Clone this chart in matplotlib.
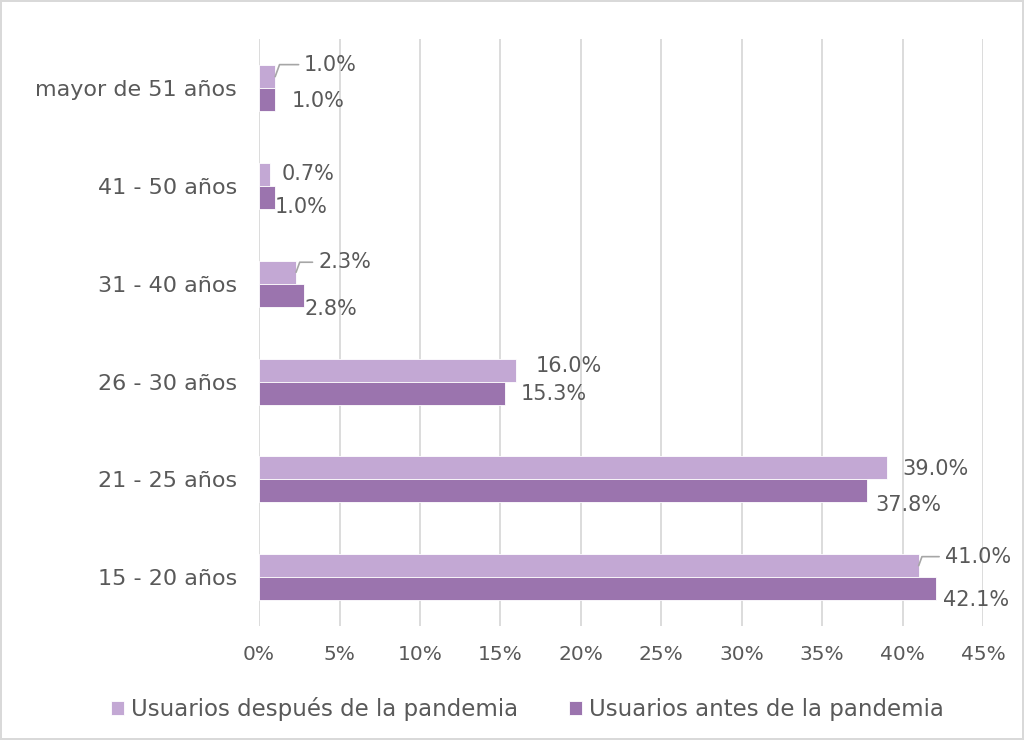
import matplotlib
matplotlib.use("Agg")
import matplotlib.pyplot as plt
import numpy as np

# ---------------- DATA ----------------
categories = ["15 - 20 años", "21 - 25 años", "26 - 30 años",
              "31 - 40 años", "41 - 50 años", "mayor de 51 años"]
despues = [41.0, 39.0, 16.0, 2.3, 0.7, 1.0]
antes = [42.1, 37.8, 15.3, 2.8, 1.0, 1.0]
xticks = [0, 5, 10, 15, 20, 25, 30, 35, 40, 45]

# ---------------- STYLE ----------------
LIGHT = "#c3a8d4"
DARK = "#9b74ae"
TXT = "#595959"
GRID = "#d9d9d9"
plt.rcParams["font.family"] = ["DejaVu Sans"]

# label offsets (pixels) for each bar label, and whether a leader line is drawn
light_off = [(26, 9, True), (16, -1, False), (19, 4, False),
             (22, 10, True), (11, 0, False), (29, 12, True)]
dark_off = [(7, -11), (8, -14), (15, -1), (0, -14), (0, -10), (17, -1)]

fig = plt.figure(figsize=(10.24, 7.4), dpi=100)
fig.patch.set_edgecolor("#d9d9d9")
fig.patch.set_linewidth(1.5)
ax = fig.add_axes([0.253, 0.154, 0.707, 0.793])

y = np.arange(len(categories))
h = 0.235
ax.barh(y + h / 2, despues, height=h, color=LIGHT, edgecolor="white", linewidth=0.6,
        label="Usuarios después de la pandemia", zorder=3)
ax.barh(y - h / 2, antes, height=h, color=DARK, edgecolor="white", linewidth=0.6,
        label="Usuarios antes de la pandemia", zorder=3)

for i in range(len(categories)):
    dx, dy, leader = light_off[i]
    kw = {}
    if leader:
        kw["arrowprops"] = dict(arrowstyle="-", color="#a6a6a6", lw=1.2,
                                connectionstyle="angle,angleA=0,angleB=70",
                                shrinkA=2, shrinkB=0)
    ax.annotate(f"{despues[i]:.1f}%", xy=(despues[i], y[i] + h / 2),
                xytext=(dx, dy), textcoords="offset pixels",
                ha="left", va="center", fontsize=15, color=TXT, **kw)
    dx, dy = dark_off[i]
    ax.annotate(f"{antes[i]:.1f}%", xy=(antes[i], y[i] - h / 2),
                xytext=(dx, dy), textcoords="offset pixels",
                ha="left", va="center", fontsize=15, color=TXT)

ax.set_xlim(0, 45)
ax.set_ylim(-0.5, len(categories) - 0.5)
ax.set_xticks(xticks)
ax.set_xticklabels([f"{t}%" for t in xticks])
ax.set_yticks(y)
ax.set_yticklabels(categories)
ax.tick_params(length=0, colors=TXT)
ax.tick_params(axis="x", labelsize=14.5, pad=14)
ax.tick_params(axis="y", labelsize=16, pad=16)
ax.grid(axis="x", color=GRID, linewidth=1.3, zorder=0)
for s in ax.spines.values():
    s.set_visible(False)

handles, labels = ax.get_legend_handles_labels()
fig.legend(handles, labels, loc="center", bbox_to_anchor=(0.515, 0.042), ncol=2,
           frameon=False, fontsize=16.5, labelcolor=TXT, handlelength=0.6,
           handleheight=0.6, handletextpad=0.3, columnspacing=2.2)

fig.savefig("out.png", dpi=100)
